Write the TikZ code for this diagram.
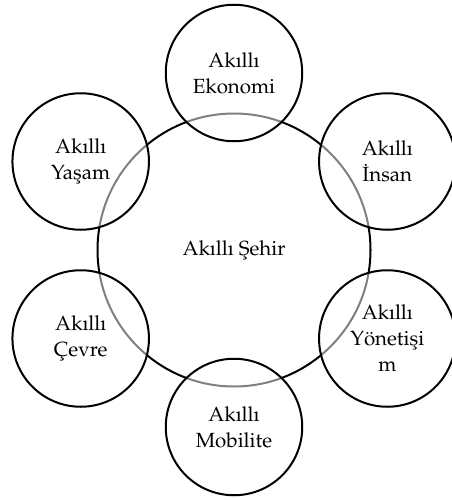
\documentclass[tikz,border=0pt]{standalone}
\usepackage[T1]{fontenc}
\usepackage{mathpazo}
\begin{document}
\begin{tikzpicture}[x=1pt,y=-1pt]
\tikzset{
  bigc/.style={circle,draw=black,line width=2pt,minimum size=273pt,inner sep=0pt},
  smallc/.style={circle,draw=black,line width=2pt,minimum size=136.5pt,inner sep=0pt,
                 fill=white,fill opacity=0.5,draw opacity=1,text opacity=1,align=center,
                 font=\fontsize{20.5}{26}\selectfont},
  lbl/.style={align=center,font=\fontsize{20.5}{26}\selectfont}
}
\useasboundingbox (0,0) rectangle (451,500);
\node[bigc] (city) at (234,250) {};
\node[lbl] (citylbl) at (city) {Ak\i ll\i{} \c{S}ehir};
\node[smallc] (eko) at (234,73) {Ak\i ll\i\\Ekonomi};
\node[smallc] (yas) at (80.7,161.5) {Ak\i ll\i\\Ya\c{s}am};
\node[smallc] (ins) at (387.3,161.5) {Ak\i ll\i\\\.Insan};
\node[smallc] (cev) at (80.7,338.5) {Ak\i ll\i\\\c{C}evre};
\node[smallc] (yon) at (387.3,338.5) {Ak\i ll\i\\Y\"oneti\c{s}i\\m};
\node[smallc] (mob) at (234,427) {Ak\i ll\i\\Mobilite};
\end{tikzpicture}
\end{document}
